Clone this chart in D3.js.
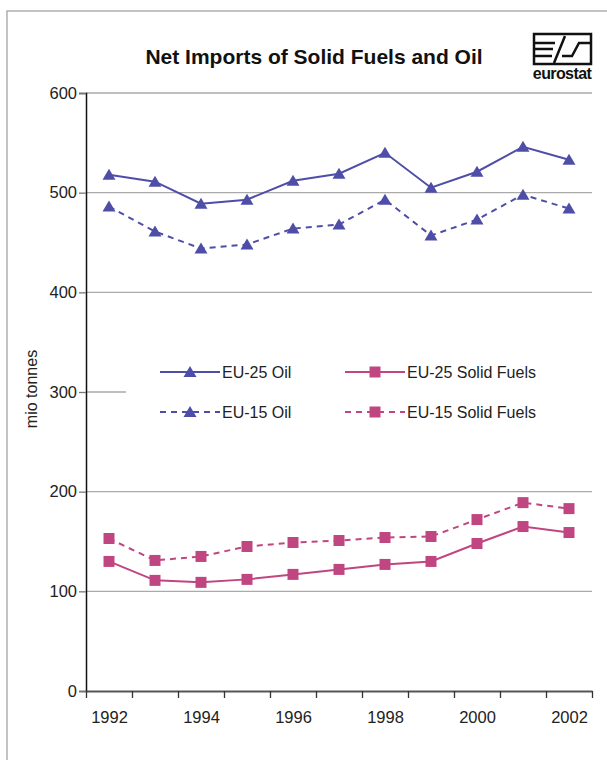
<!DOCTYPE html>
<html>
<head>
<meta charset="utf-8">
<script src="https://cdn.jsdelivr.net/npm/d3@7"></script>
<style>
  body { margin: 0; background: #fff; }
  svg { display: block; font-family: "Liberation Sans", Arial, sans-serif; }
  .axis text { font-size: 16.5px; fill: #222; }
</style>
</head>
<body>
<div id="chart"></div>
<script>
// data
const years = [1992, 1993, 1994, 1995, 1996, 1997, 1998, 1999, 2000, 2001, 2002];
const eu25Oil = [518, 511, 489, 493, 512, 519, 540, 505, 521, 546, 533];
const eu15Oil = [486, 461, 444, 448, 464, 468, 493, 457, 473, 498, 484];
const eu25Solid = [130, 111, 109, 112, 117, 122, 127, 130, 148, 165, 159];
const eu15Solid = [153, 131, 135, 145, 149, 151, 154, 155, 172, 189, 183];
const yTicks = [0, 100, 200, 300, 400, 500, 600];
const xLabels = [1992, 1994, 1996, 1998, 2000, 2002];

const series = [
    {name: "EU-25 Oil", values: eu25Oil, color: "#4e4ea8", dash: null, marker: "triangle"},
    {name: "EU-15 Oil", values: eu15Oil, color: "#4e4ea8", dash: "6,5", marker: "triangle"},
    {name: "EU-25 Solid Fuels", values: eu25Solid, color: "#c04681", dash: null, marker: "square"},
    {name: "EU-15 Solid Fuels", values: eu15Solid, color: "#c04681", dash: "6,5", marker: "square"}
];

const W = 607, H = 760;
const margin = {top: 93, right: 15, bottom: 69, left: 86};

const svg = d3.select("#chart").append("svg")
    .attr("width", W)
    .attr("height", H);

// outer frame (top and left only)
svg.append("path")
    .attr("d", "M7,760 V11 H607")
    .attr("fill", "none")
    .attr("stroke", "#b0b0b0")
    .attr("stroke-width", 1.5);

// title
svg.append("text")
    .attr("x", 314)
    .attr("y", 64)
    .attr("text-anchor", "middle")
    .attr("font-size", "21px")
    .attr("font-weight", "bold")
    .attr("fill", "#111")
    .text("Net Imports of Solid Fuels and Oil");

// eurostat logo
const logo = svg.append("g").attr("transform", "translate(533,33)");
logo.append("rect")
    .attr("x", 1).attr("y", 1).attr("width", 57).attr("height", 30)
    .attr("fill", "none").attr("stroke", "#111").attr("stroke-width", 2.5);
logo.append("path")
    .attr("d", "M2,10 H22 M2,16 H20 M2,23 H19 M21,30 L32,3 M57,10 H46 L39,23 H29")
    .attr("fill", "none").attr("stroke", "#111").attr("stroke-width", 2.5);
svg.append("text")
    .attr("x", 562)
    .attr("y", 79)
    .attr("text-anchor", "middle")
    .attr("font-size", "16px")
    .attr("font-weight", "bold")
    .attr("letter-spacing", "-0.6")
    .attr("fill", "#111")
    .text("eurostat");

const width = W - margin.left - margin.right;
const height = H - margin.top - margin.bottom;

const g = svg.append("g")
    .attr("transform", "translate(" + margin.left + "," + margin.top + ")");

// scales
const x = d3.scaleLinear()
    .domain([years[0] - 0.5, years[years.length - 1] + 0.5])
    .range([0, width]);

const y = d3.scaleLinear()
    .domain([0, 600])
    .range([height, 0]);

// gridlines
g.append("g")
    .selectAll("line")
    .data(yTicks.filter(d => d > 0))
    .enter().append("line")
    .attr("x1", 0)
    .attr("x2", width)
    .attr("y1", d => y(d))
    .attr("y2", d => y(d))
    .attr("stroke", "#aaaaaa")
    .attr("stroke-width", 1.3);

// y axis
const yAxis = d3.axisLeft(y)
    .tickValues(yTicks)
    .tickSize(7)
    .tickPadding(2);

g.append("g")
    .attr("class", "y-axis axis")
    .call(yAxis)
    .call(s => s.select(".domain").attr("stroke", "#111").attr("stroke-width", 1.5))
    .call(s => s.selectAll(".tick line").attr("stroke", "#777").attr("stroke-width", 1.3))
    .selectAll("text").attr("font-family", null).attr("font-size", null);

// x axis ticks at year boundaries
const xAxis = d3.axisBottom(x)
    .tickValues(d3.range(years[0] - 0.5, years[years.length - 1] + 1, 1))
    .tickFormat("")
    .tickSize(7)
    .tickSizeOuter(0);

g.append("g")
    .attr("class", "x-axis axis")
    .attr("transform", "translate(0," + height + ")")
    .call(xAxis)
    .call(s => s.select(".domain").attr("stroke", "#555").attr("stroke-width", 2))
    .call(s => s.selectAll(".tick line").attr("stroke", "#333").attr("stroke-width", 1.3));

// x labels
const xLabelAxis = d3.axisBottom(x)
    .tickValues(xLabels)
    .tickFormat(d3.format("d"))
    .tickSize(0)
    .tickPadding(20);

g.append("g")
    .attr("class", "x-labels axis")
    .attr("transform", "translate(0," + height + ")")
    .call(xLabelAxis)
    .call(s => s.select(".domain").remove())
    .selectAll("text").attr("font-family", null).attr("font-size", null);

// y label
svg.append("text")
    .attr("transform", "translate(37,389) rotate(-90)")
    .attr("text-anchor", "middle")
    .attr("font-size", "16px")
    .attr("fill", "#222")
    .text("mio tonnes");

// marker helper
function drawMarker(sel, type, color) {
    if (type === "triangle") {
        sel.append("path")
            .attr("d", "M0,-6 L6.5,5 L-6.5,5 Z")
            .attr("fill", color);
    } else {
        sel.append("rect")
            .attr("x", -5.5).attr("y", -5.5)
            .attr("width", 11).attr("height", 11)
            .attr("fill", color);
    }
}

const line = d3.line()
    .x((d, i) => x(years[i]))
    .y(d => y(d));

// lines and markers
series.forEach(function (s) {
    g.append("path")
        .datum(s.values)
        .attr("fill", "none")
        .attr("stroke", s.color)
        .attr("stroke-width", 2)
        .attr("stroke-dasharray", s.dash)
        .attr("d", line);

    g.selectAll(".m-" + s.name.replace(/\W/g, ""))
        .data(s.values)
        .enter().append("g")
        .attr("transform", (d, i) => "translate(" + x(years[i]) + "," + y(d) + ")")
        .each(function () { drawMarker(d3.select(this), s.marker, s.color); });
});

// legend (white box hides the 300 gridline)
const legend = svg.append("g");
legend.append("rect")
    .attr("x", 126).attr("y", 340)
    .attr("width", 470).attr("height", 105)
    .attr("fill", "#fff");

const legendPos = [
    {x: 160, y: 372},
    {x: 160, y: 412},
    {x: 345, y: 372},
    {x: 345, y: 412}
];

series.forEach(function (s, i) {
    const p = legendPos[i];
    const item = legend.append("g").attr("transform", "translate(" + p.x + "," + p.y + ")");
    item.append("line")
        .attr("x1", 0).attr("x2", 60)
        .attr("stroke", s.color)
        .attr("stroke-width", 2)
        .attr("stroke-dasharray", s.dash);
    drawMarker(item.append("g").attr("transform", "translate(30,0)"), s.marker, s.color);
    item.append("text")
        .attr("x", 62)
        .attr("dy", "0.35em")
        .attr("font-size", "16px")
        .attr("fill", "#222")
        .text(s.name);
});
</script>
</body>
</html>
